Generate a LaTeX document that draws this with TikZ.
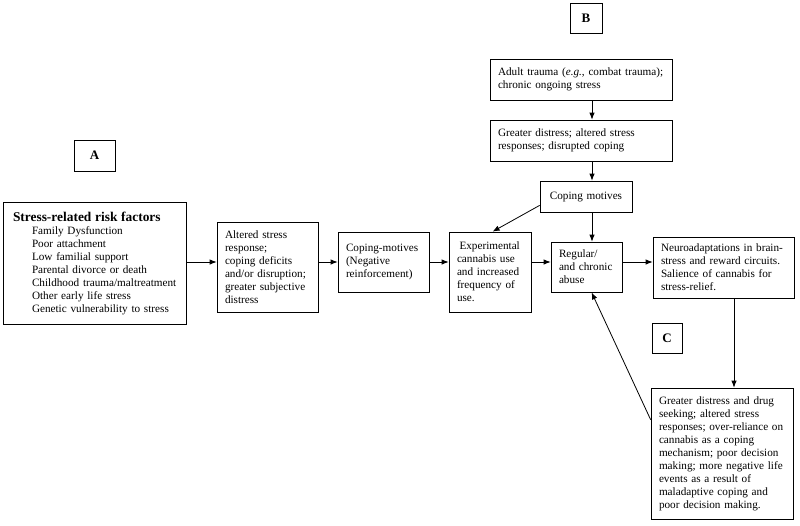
\documentclass[tikz,border=0pt]{standalone}
\usepackage{fontspec}
\setmainfont{Liberation Serif}
\usetikzlibrary{arrows.meta,calc}
\tikzset{
  box/.style={draw, line width=0.8pt, inner xsep=8pt, inner ysep=2pt, align=left,
    font=\fontsize{11.2}{13}\selectfont},
  lbl/.style={draw, line width=0.8pt, inner sep=0pt, align=center,
    font=\fontsize{13}{15}\selectfont\bfseries},
  arr/.style={line width=0.8pt, -{Latex[length=7pt,width=5.5pt]}}
}
\begin{document}
\begin{tikzpicture}[x=1pt,y=-1pt]
\useasboundingbox (0,0) rectangle (800,525);
\fill[white] (0,0) rectangle (800,525);

\node[lbl, minimum width=41pt, minimum height=31pt] (A) at (94.5,155.5) {A};
\node[lbl, minimum width=32pt, minimum height=30pt] (B) at (586,18) {B};
\node[lbl, minimum width=30pt, minimum height=30pt] (C) at (667,338) {C};

\node[box, inner xsep=4pt, text width=175pt, minimum height=122pt] (risk) at (94.5,263)
 {\hspace*{6pt}{\fontsize{13.4}{15}\selectfont\bfseries Stress-related risk factors}\\
  \hspace*{25pt}Family Dysfunction\\
  \hspace*{25pt}Poor attachment\\
  \hspace*{25pt}Low familial support\\
  \hspace*{25pt}Parental divorce or death\\
  \hspace*{25pt}\mbox{Childhood trauma/maltreatment}\\
  \hspace*{25pt}Other early life stress\\
  \hspace*{25pt}Genetic vulnerability to stress};

\node[box, text width=85pt, minimum height=90pt] (alt) at (267.5,267)
 {Altered stress\\response;\\coping deficits\\and/or disruption;\\greater subjective\\distress};

\node[box, text width=75pt, minimum height=60pt] (cop) at (383.5,262)
 {Coping-motives\\(Negative\\reinforcement)};

\node[box, text width=66pt, minimum height=80pt] (exp) at (490,272)
 {\hspace*{2.5pt}Experimental\\cannabis use\\and increased\\frequency of\\use.};

\node[box, text width=55pt, minimum height=50pt] (reg) at (586.5,267)
 {Regular/\\and chronic\\abuse};

\node[box, text width=125pt, minimum height=61pt] (neuro) at (723.5,267.5)
 {Neuroadaptations in brain-\\stress and reward circuits.\\Salience of cannabis for\\stress-relief.};

\node[box, text width=166pt, minimum height=41pt] (adult) at (581,79.5)
 {Adult trauma (\textit{e.g.}, combat trauma);\\chronic ongoing stress};

\node[box, text width=166pt, minimum height=41pt] (gd) at (581,140.5)
 {Greater distress; altered stress\\responses; disrupted coping};

\node[box, align=center, text width=76pt, minimum height=31pt] (cm) at (586,196.5)
 {Coping motives};

\node[box, text width=126pt, minimum height=131pt] (bot) at (722,453.5)
 {Greater distress and drug\\seeking; altered stress\\responses; over-reliance on\\cannabis as a coping\\mechanism; poor decision\\making; more negative life\\events as a result of\\maladaptive coping and\\poor decision making.};

\coordinate (rowy) at (0,262);
\coordinate (colx) at (592,0);
\coordinate (colz) at (734,0);

\draw[arr] (risk.east |- rowy) -- (alt.west |- rowy);
\draw[arr] (alt.east |- rowy) -- (cop.west |- rowy);
\draw[arr] (cop.east |- rowy) -- (exp.west |- rowy);
\draw[arr] (exp.east |- rowy) -- (reg.west |- rowy);
\draw[arr] (reg.east |- rowy) -- (neuro.west |- rowy);

\draw[arr] (adult.south -| colx) -- (gd.north -| colx);
\draw[arr] (gd.south -| colx) -- (cm.north -| colx);
\draw[arr] (cm.south -| colx) -- (reg.north -| colx);
\draw[arr] ($(cm.south west)+(0,-7)$) -- ($(exp.north west)+(44,0)$);

\draw[arr] (neuro.south -| colz) -- (bot.north -| colz);
\draw[arr] ($(bot.north west)+(0,32)$) -- ($(reg.south west)+(41,0)$);
\end{tikzpicture}
\end{document}
